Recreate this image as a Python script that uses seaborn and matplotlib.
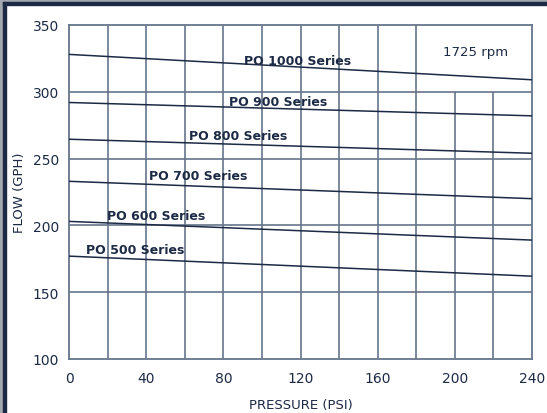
import pandas as pd
import numpy as np
import matplotlib
matplotlib.use("Agg")
import matplotlib.pyplot as plt
import seaborn as sns
from matplotlib.patches import Rectangle

# flow (GPH) at 0 and 240 PSI
series = ["PO 1000 Series", "PO 900 Series", "PO 800 Series",
          "PO 700 Series", "PO 600 Series", "PO 500 Series"]
pressure = [0, 240]
flow_start = [328, 292, 264.5, 233, 203, 177]
flow_end = [309, 282, 254, 220, 189, 162]
# where each label sits (pressure, flow)
label_x = [90.5, 83, 62, 41.5, 19.5, 9]
label_y = [323.5, 292.5, 267, 237, 207.5, 182]

rpm_text = "1725 rpm"
x_ticks = [0, 40, 80, 120, 160, 200, 240]
y_ticks = [100, 150, 200, 250, 300, 350]
grid_y = [150, 200, 250, 300]
grid_x_full = [20, 40, 60, 80, 100, 120, 140, 160, 180]
grid_x_short = [200, 220]

navy = "#1c2a45"
gridc = "#66758b"

rows = []
for s, a, b in zip(series, flow_start, flow_end):
    rows.append({"series": s, "psi": pressure[0], "gph": a})
    rows.append({"series": s, "psi": pressure[1], "gph": b})
df = pd.DataFrame(rows)

sns.set_style("white")
plt.rcParams['font.family'] = ['DejaVu Sans']

fig = plt.figure(figsize=(5.47, 4.14), dpi=100)
fig.patch.set_facecolor("white")
ax = fig.add_axes([69/547, 1-360/414, (532-69)/547, (360-26)/414])

ax.hlines(grid_y, 0, 240, color=gridc, lw=1.2, zorder=1)
ax.vlines(grid_x_full, 100, 350, color=gridc, lw=1.2, zorder=1)
ax.vlines(grid_x_short, 100, 300, color=gridc, lw=1.2, zorder=1)

sns.lineplot(data=df, x="psi", y="gph", hue="series",
             palette=[navy]*len(series), lw=1.1, legend=False, ax=ax, zorder=3)

for s, lx, ly in zip(series, label_x, label_y):
    ax.text(lx, ly, s, fontsize=9.0, fontweight="bold", color=navy,
            ha="left", va="center", zorder=4)
ax.text(210.5, 330.5, rpm_text, fontsize=9.5, color=navy, ha="center", va="center")

ax.set_xlim(0, 240)
ax.set_ylim(100, 350)
ax.set_xticks(x_ticks)
ax.set_yticks(y_ticks)
ax.tick_params(length=0, labelsize=10, colors=navy, pad=7)
ax.tick_params(axis="x", pad=9)
ax.set_xlabel("PRESSURE (PSI)", fontsize=9.5, color=navy, labelpad=9)
ax.set_ylabel("FLOW (GPH)", fontsize=9.5, color=navy, labelpad=5)
for sp in ax.spines.values():
    sp.set_color(gridc)
    sp.set_linewidth(1.3)

# frame around the panel (left and top edges only are visible)
fig.patches.append(Rectangle((0, 0), 3/547, 1, transform=fig.transFigure,
                             color="#a3a7ae", zorder=0))
fig.patches.append(Rectangle((0, 1-3/414), 1, 3/414, transform=fig.transFigure,
                             color="#a3a7ae", zorder=0))
fig.patches.append(Rectangle((3/547, 0), 3/547, 1-3/414, transform=fig.transFigure,
                             color=navy, zorder=0))
fig.patches.append(Rectangle((3/547, 1-6/414), 1, 3/414, transform=fig.transFigure,
                             color=navy, zorder=0))

fig.savefig("out.png", dpi=100, facecolor=fig.get_facecolor())
